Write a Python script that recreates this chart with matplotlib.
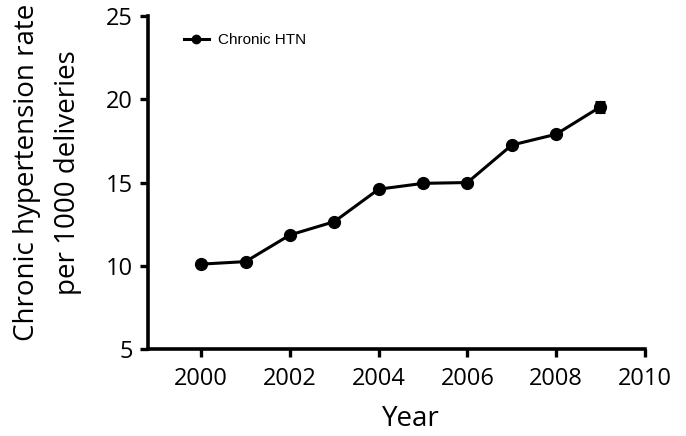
import matplotlib
matplotlib.use("Agg")
import matplotlib.pyplot as plt
from matplotlib.lines import Line2D

years = [2000, 2001, 2002, 2003, 2004, 2005, 2006, 2007, 2008, 2009]
rates = [10.1, 10.25, 11.85, 12.65, 14.6, 14.95, 15.0, 17.25, 17.9, 19.55]
errors = [0.08, 0.08, 0.1, 0.1, 0.1, 0.1, 0.1, 0.12, 0.12, 0.3]
series_label = "Chronic HTN"
xticks = [2000, 2002, 2004, 2006, 2008, 2010]
yticks = [5, 10, 15, 20, 25]

plt.rcParams['font.family'] = ['Open Sans', 'DejaVu Sans']

fig = plt.figure(figsize=(6.86, 4.36), dpi=100)
ax = fig.add_axes([0.2157, 0.1995, 0.7243, 0.7637])

ax.errorbar(years, rates, yerr=errors, color='black', marker='o', markersize=8.5,
            linewidth=2.2, elinewidth=2.0, capsize=3.6, capthick=2.2)

ax.set_xlim(1998.8, 2010)
ax.set_ylim(5, 25)
ax.set_xticks(xticks)
ax.set_yticks(yticks)
ax.tick_params(axis='both', which='major', labelsize=17, width=2.4, length=6, direction='out', colors='black')
ax.tick_params(axis='x', pad=7)
ax.tick_params(axis='y', pad=5)

for s in ['top', 'right']:
    ax.spines[s].set_visible(False)
for s in ['left', 'bottom']:
    ax.spines[s].set_linewidth(2.6)

ax.set_xlabel("Year", fontsize=20)
ax.xaxis.set_label_coords(0.53, -0.168)
ax.set_ylabel("Chronic hypertension rate\nper 1000 deliveries", fontsize=20, linespacing=1.6)
ax.yaxis.set_label_coords(-0.133, 0.53)

handle = Line2D([], [], color='black', marker='o', markersize=6, linewidth=2.2)
ax.legend([handle], [series_label], loc='upper left', bbox_to_anchor=(0.045, 0.99), frameon=False,
          prop={'family': 'Liberation Sans', 'size': 11}, handlelength=1.6, handletextpad=0.65)

fig.savefig("out.png", dpi=100)
